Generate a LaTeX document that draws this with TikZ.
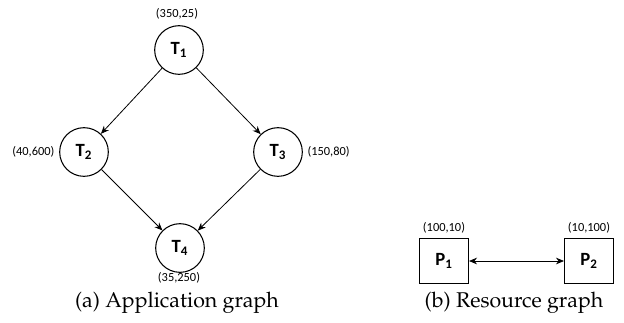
\documentclass[tikz,border=0pt]{standalone}
\usepackage[T1]{fontenc}
\usepackage{fontspec}
\setmainfont{Carlito}
\usetikzlibrary{arrows.meta}
\newcommand{\capfont}{\usefont{T1}{ppl}{m}{n}\fontsize{16pt}{18pt}\selectfont}
\tikzset{
  task/.style={circle,draw,line width=0.8pt,minimum size=36.5pt,inner sep=0pt,font=\fontsize{14pt}{16pt}\selectfont\bfseries},
  proc/.style={rectangle,draw,line width=0.8pt,minimum width=36.75pt,minimum height=33.75pt,inner sep=0pt,font=\fontsize{14pt}{16pt}\selectfont\bfseries},
  lbl/.style={font=\fontsize{9.3pt}{11pt}\selectfont,inner sep=1pt},
  edge/.style={line width=0.6pt,-{Stealth[length=6pt,width=5pt]}},
  captxt/.style={font=\capfont,inner sep=0pt}
}
\begin{document}
\begin{tikzpicture}[x=0.75pt,y=-0.75pt]
\useasboundingbox (0,0) rectangle (624,322);
\node[task] (t1) at (179,50) {T$_{\mathbf 1}$};
\node[task] (t2) at (84,152) {T$_{\mathbf 2}$};
\node[task] (t3) at (278,152) {T$_{\mathbf 3}$};
\node[task] (t4) at (180,248) {T$_{\mathbf 4}$};
\node[lbl] (l1) at (177,14) {(350,25)};
\node[lbl,anchor=east] (l2) at (56,152) {(40,600)};
\node[lbl,anchor=west] (l3) at (306,152) {(150,80)};
\node[lbl] (l4) at (179,278) {(35,250)};
\draw[edge] (t1) -- (t2);
\draw[edge] (t1) -- (t3);
\draw[edge] (t2) -- (t4);
\draw[edge] (t3) -- (t4);
\node[proc] (p1) at (444,261) {P$_{\mathbf 1}$};
\node[proc] (p2) at (589,261) {P$_{\mathbf 2}$};
\node[lbl] (l5) at (444,228) {(100,10)};
\node[lbl] (l6) at (589,228) {(10,100)};
\draw[line width=0.6pt,{Stealth[length=6pt,width=5pt]}-{Stealth[length=6pt,width=5pt]}] (p1) -- (p2);
\node[captxt] (ca) at (177,303) {(a) Application graph};
\node[captxt] (cb) at (514,303) {(b) Resource graph};
\end{tikzpicture}
\end{document}
